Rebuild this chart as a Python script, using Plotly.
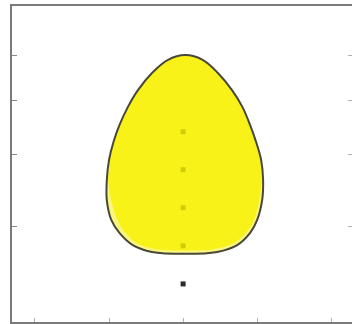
import plotly.graph_objects as go

# Egg outline (data units), clockwise from the top
outline_x = [0.03, 0.27, 0.47, 0.66, 0.80, 0.905, 0.985, 1.053, 1.08, 1.067, 1.0, 0.905, 0.73, 0.46, 0.03,
             -0.42, -0.68, -0.86, -0.97, -1.03, -1.03, -1.0, -0.94, -0.86, -0.745, -0.61, -0.42, -0.21, 0.03]
outline_y = [7.01, 6.88, 6.54, 6.09, 5.65, 5.17, 4.73, 4.26, 3.73, 3.20, 2.68, 2.34, 2.02, 1.84, 1.79,
             1.84, 2.02, 2.34, 2.68, 3.20, 3.73, 4.26, 4.73, 5.17, 5.65, 6.09, 6.54, 6.88, 7.01]

# Brighter inner region (pale band along the lower rim lies outside it)
inner_x = [0.03, 0.27, 0.47, 0.66, 0.80, 0.905, 0.985, 1.05, 1.06, 1.03, 0.96, 0.86, 0.69, 0.43, 0.03,
           -0.39, -0.63, -0.79, -0.89, -0.97, -1.01, -0.99, -0.94, -0.86, -0.745, -0.61, -0.42, -0.21, 0.03]
inner_y = [7.01, 6.88, 6.54, 6.09, 5.65, 5.17, 4.73, 4.26, 3.73, 3.20, 2.70, 2.37, 2.08, 1.92, 1.88,
           1.92, 2.08, 2.37, 2.70, 3.20, 3.73, 4.26, 4.73, 5.17, 5.65, 6.09, 6.54, 6.88, 7.01]

# Centre markers
marker_x = [0, 0, 0, 0, 0]
marker_y = [1, 2, 3, 4, 5]

# Tick positions
x_ticks = [-2, -1, 0, 1, 2]
y_ticks = [2.5, 4.41, 5.83, 7.01]

spline = dict(shape="spline", smoothing=1)

fig = go.Figure()
fig.add_trace(go.Scatter(x=outline_x, y=outline_y, mode="lines", fill="toself",
                         fillcolor="rgb(250,246,125)", line=dict(width=0, **spline),
                         showlegend=False, hoverinfo="skip"))
fig.add_trace(go.Scatter(x=marker_x, y=marker_y, mode="markers",
                         marker=dict(symbol="square", size=5, color="#2a2a2a"),
                         showlegend=False, hoverinfo="skip"))
fig.add_trace(go.Scatter(x=inner_x, y=inner_y, mode="lines", fill="toself",
                         fillcolor="rgba(249,240,2,0.82)", line=dict(width=0, **spline),
                         showlegend=False, hoverinfo="skip"))
fig.add_trace(go.Scatter(x=outline_x, y=outline_y, mode="lines",
                         line=dict(color="#47473a", width=2, **spline),
                         showlegend=False, hoverinfo="skip"))

fig.update_layout(
    width=353, height=324,
    margin=dict(l=12, r=1, t=6, b=2),
    paper_bgcolor="white", plot_bgcolor="white",
    xaxis=dict(range=[-2.31, 2.28], showgrid=False, zeroline=False,
               showline=True, mirror=True, linecolor="#7a7a7a", linewidth=2,
               tickvals=x_ticks, ticks="inside", ticklen=4, tickcolor="#b0b0b0",
               showticklabels=False),
    yaxis=dict(range=[0, 8.3], showgrid=False, zeroline=False,
               showline=True, mirror=False, linecolor="#7a7a7a", linewidth=2,
               tickvals=y_ticks, ticks="inside", ticklen=5, tickcolor="#8a8a8a",
               showticklabels=False),
    yaxis2=dict(range=[0, 8.3], overlaying="y", side="right", showgrid=False,
                zeroline=False, showline=False, tickvals=y_ticks, ticks="inside",
                ticklen=4, tickcolor="#b0b0b0", showticklabels=False),
)
fig.add_trace(go.Scatter(x=[None], y=[None], yaxis="y2", showlegend=False, hoverinfo="skip"))

fig.write_html("out.html", config={"displayModeBar": False},
               post_script="document.body.style.margin='0px';")
